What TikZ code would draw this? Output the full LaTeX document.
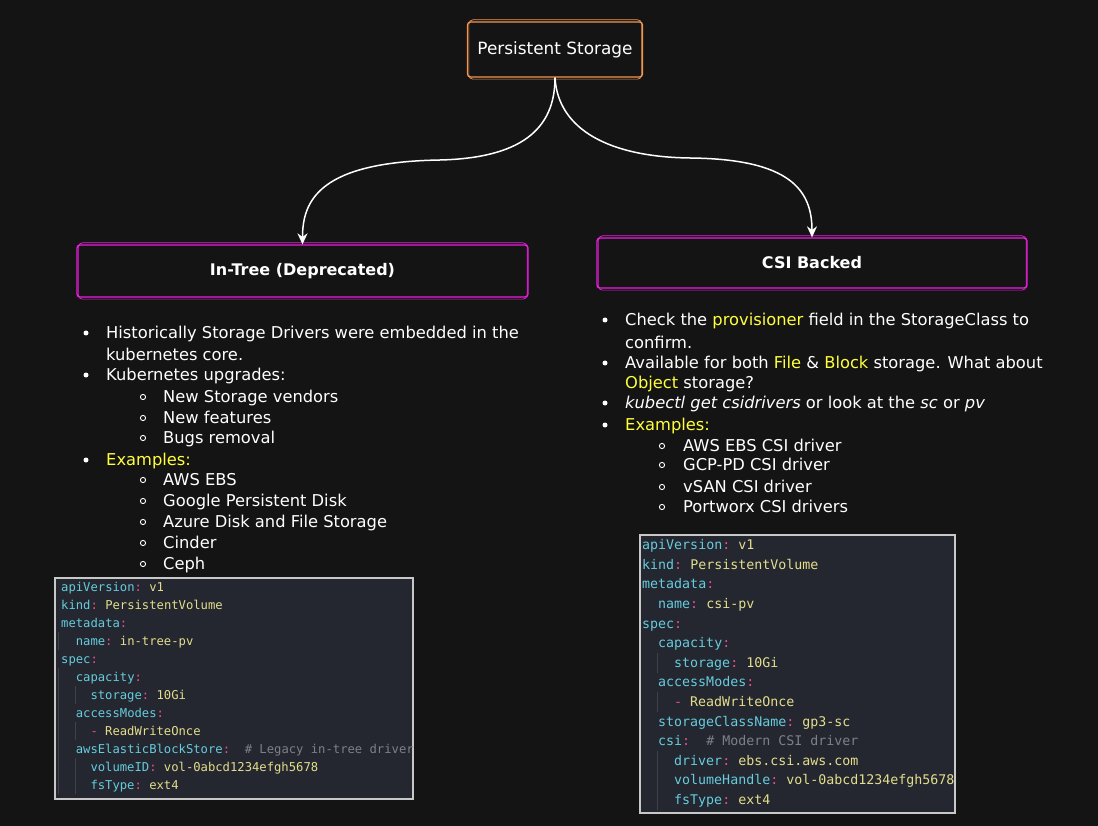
\documentclass[tikz,border=0pt]{standalone}
\usepackage{fontspec}
\setmainfont{DejaVu Sans}
\setmonofont{DejaVu Sans Mono}
\usetikzlibrary{arrows.meta,calc}
\definecolor{bg}{RGB}{20,20,20}
\definecolor{orangeb}{RGB}{240,150,80}
\definecolor{magb}{RGB}{235,30,220}
\definecolor{yel}{RGB}{255,255,60}
\definecolor{codebg}{RGB}{36,39,47}
\definecolor{codebd}{RGB}{200,200,200}
\definecolor{ck}{RGB}{102,204,222}
\definecolor{cv}{RGB}{228,222,140}
\definecolor{cp}{RGB}{230,80,140}
\definecolor{cc}{RGB}{125,128,136}
\definecolor{guide}{RGB}{62,65,74}
\newcommand\ky[1]{\textcolor{ck}{#1}\textcolor{cp}{:}}
\newcommand\vl[1]{\textcolor{cv}{#1}}
\newcommand\yl[1]{\textcolor{yel}{#1}}
\begin{document}
\begin{tikzpicture}[x=1pt,y=-1pt,
  hbox/.style={draw, line width=1.3pt, rounded corners=3pt, text=white, inner sep=0pt},
  sketch/.style={line width=0.7pt, rounded corners=4pt},
  txt/.style={anchor=base west, inner sep=0pt, text=white, font=\fontsize{16.3}{18}\selectfont},
  cdl/.style={anchor=base west, inner sep=0pt, font=\ttfamily\fontsize{12.2}{14}\selectfont},
  cdr/.style={anchor=base west, inner sep=0pt, font=\ttfamily\fontsize{13.3}{15}\selectfont},
  conn/.style={draw=white, line width=1.5pt, -{Stealth[length=11pt,width=10pt]}},
  cbox/.style={draw=codebd, line width=2pt, fill=codebg, inner sep=0pt},
  gline/.style={draw=guide, line width=1pt},
  bul/.style={fill=white},
  sbul/.style={draw=white, line width=0.9pt}
]
\fill[bg] (0,0) rectangle (1098,826);
\useasboundingbox (0,0) rectangle (1098,826);

% header boxes
\node[hbox, draw=orangeb, minimum width=175pt, minimum height=55pt,
      font=\fontsize{16.9}{19}\selectfont] (ps) at (555,49.5) {Persistent Storage};
\draw[sketch, orangeb] ($(ps.north west)+(2,-1.5)$) rectangle ($(ps.south east)+(-1.5,1.5)$);

\node[hbox, draw=magb, minimum width=451pt, minimum height=52pt,
      font=\bfseries\fontsize{16}{19}\selectfont] (it) at (302.5,271) {In-Tree (Deprecated)};
\draw[sketch, magb] ($(it.north west)+(2,-1.5)$) rectangle ($(it.south east)+(-1.5,1.5)$);

\node[hbox, draw=magb, minimum width=430pt, minimum height=50pt,
      font=\bfseries\fontsize{16}{19}\selectfont] (cs) at (812,263) {CSI Backed};
\draw[sketch, magb] ($(cs.north west)+(2,-1.5)$) rectangle ($(cs.south east)+(-1.5,1.5)$);

% connectors
\coordinate (lm) at (440,160);
\coordinate (rm) at (690,158);
\draw[conn] (ps.south) .. controls (555,130) and (520,158) .. (lm)
            .. controls (320,162) and (302.5,200) .. (it.north);
\draw[conn] (ps.south) .. controls (558,130) and (610,157) .. (rm)
            .. controls (790,159) and (812,190) .. (cs.north);

% left bullet list
\fill[bul] (86,333) circle (2.5pt);
\node[txt] (la1) at (106,338.5) {Historically Storage Drivers were embedded in the};
\node[txt] (la2) at (106,360.5) {kubernetes core.};
\fill[bul] (86,375) circle (2.5pt);
\node[txt] (la3) at (106,380.5) {Kubernetes upgrades:};
\draw[sbul] (143,397) circle (2.6pt);
\node[txt] (la4) at (163,402.5) {New Storage vendors};
\draw[sbul] (143,418) circle (2.6pt);
\node[txt] (la5) at (163,423.5) {New features};
\draw[sbul] (143,438) circle (2.6pt);
\node[txt] (la6) at (163,443.5) {Bugs removal};
\fill[bul] (86,460) circle (2.5pt);
\node[txt] (la7) at (106,465.5) {\yl{Examples:}};
\draw[sbul] (143,480) circle (2.6pt);
\node[txt] (la8) at (163,485.5) {AWS EBS};
\draw[sbul] (143,501) circle (2.6pt);
\node[txt] (la9) at (163,506.5) {Google Persistent Disk};
\draw[sbul] (143,522) circle (2.6pt);
\node[txt] (la10) at (163,527.5) {Azure Disk and File Storage};
\draw[sbul] (143,543) circle (2.6pt);
\node[txt] (la11) at (163,548.5) {Cinder};
\draw[sbul] (143,564) circle (2.6pt);
\node[txt] (la12) at (163,569.5) {Ceph};

% right bullet list
\fill[bul] (605,320) circle (2.5pt);
\node[txt] (ra1) at (625,325.5) {Check the \yl{provisioner} field in the StorageClass to};
\node[txt] (ra2) at (625,348.5) {confirm.};
\fill[bul] (605,363) circle (2.5pt);
\node[txt] (ra3) at (625,368.5) {Available for both \yl{File} \& \yl{Block} storage. What about};
\node[txt] (ra4) at (625,388.5) {\yl{Object} storage?};
\fill[bul] (605,403) circle (2.5pt);
\node[txt] (ra5) at (625,408.5) {{\itshape kubectl get csidrivers} or look at the {\itshape sc} or {\itshape pv}};
\fill[bul] (605,425) circle (2.5pt);
\node[txt] (ra6) at (625,430.5) {\yl{Examples:}};
\draw[sbul] (662,446) circle (2.6pt);
\node[txt] (ra7) at (683,451.5) {AWS EBS CSI driver};
\draw[sbul] (662,465) circle (2.6pt);
\node[txt] (ra8) at (683,470.5) {GCP-PD CSI driver};
\draw[sbul] (662,487) circle (2.6pt);
\node[txt] (ra9) at (683,492.5) {vSAN CSI driver};
\draw[sbul] (662,507) circle (2.6pt);
\node[txt] (ra10) at (683,512.5) {Portworx CSI drivers};

% left code box
\node[cbox, minimum width=358pt, minimum height=221pt] (cbl) at (234,688.5) {};
\draw[gline] (58.5,632) -- (58.5,650);
\draw[gline] (58.5,668) -- (58.5,794);
\draw[gline] (75,686) -- (75,704);
\draw[gline] (75,722) -- (75,740);
\draw[gline] (75,758) -- (75,794);
\node[cdl] (l1)  at (61,591.3)      {\ky{apiVersion} \vl{v1}};
\node[cdl] (l2)  at (61,609.3)      {\ky{kind} \vl{PersistentVolume}};
\node[cdl] (l3)  at (61,627.3)      {\ky{metadata}};
\node[cdl] (l4)  at (75.66,645.3)   {\ky{name} \vl{in-tree-pv}};
\node[cdl] (l5)  at (61,663.3)      {\ky{spec}};
\node[cdl] (l6)  at (75.66,681.3)   {\ky{capacity}};
\node[cdl] (l7)  at (90.32,699.3)   {\ky{storage} \vl{10Gi}};
\node[cdl] (l8)  at (75.66,717.3)   {\ky{accessModes}};
\node[cdl] (l9)  at (90.32,735.3)   {\textcolor{cp}{-} \vl{ReadWriteOnce}};
\node[cdl] (l10) at (75.66,753.3)   {\ky{awsElasticBlockStore}~~\textcolor{cc}{\# Legacy in-tree driver}};
\node[cdl] (l11) at (90.32,771.3)   {\ky{volumeID} \vl{vol-0abcd1234efgh5678}};
\node[cdl] (l12) at (90.32,789.3)   {\ky{fsType} \vl{ext4}};

% right code box
\node[cbox, minimum width=315pt, minimum height=278pt] (cbr) at (797.5,674) {};
\draw[gline] (657,653) -- (657,673);
\draw[gline] (657,692) -- (657,712);
\draw[gline] (657,751) -- (657,810);
\node[cdr] (r1)  at (642,549.7) {\ky{apiVersion} \vl{v1}};
\node[cdr] (r2)  at (642,569.3) {\ky{kind} \vl{PersistentVolume}};
\node[cdr] (r3)  at (642,588.9) {\ky{metadata}};
\node[cdr] (r4)  at (658,608.5) {\ky{name} \vl{csi-pv}};
\node[cdr] (r5)  at (642,628.1) {\ky{spec}};
\node[cdr] (r6)  at (658,647.7) {\ky{capacity}};
\node[cdr] (r7)  at (674,667.3) {\ky{storage} \vl{10Gi}};
\node[cdr] (r8)  at (658,686.9) {\ky{accessModes}};
\node[cdr] (r9)  at (674,706.5) {\textcolor{cp}{-} \vl{ReadWriteOnce}};
\node[cdr] (r10) at (658,726.1) {\ky{storageClassName} \vl{gp3-sc}};
\node[cdr] (r11) at (658,745.7) {\ky{csi}~~\textcolor{cc}{\# Modern CSI driver}};
\node[cdr] (r12) at (674,765.3) {\ky{driver} \vl{ebs.csi.aws.com}};
\node[cdr] (r13) at (674,784.9) {\ky{volumeHandle} \vl{vol-0abcd1234efgh5678}};
\node[cdr] (r14) at (674,804.5) {\ky{fsType} \vl{ext4}};
\end{tikzpicture}
\end{document}
